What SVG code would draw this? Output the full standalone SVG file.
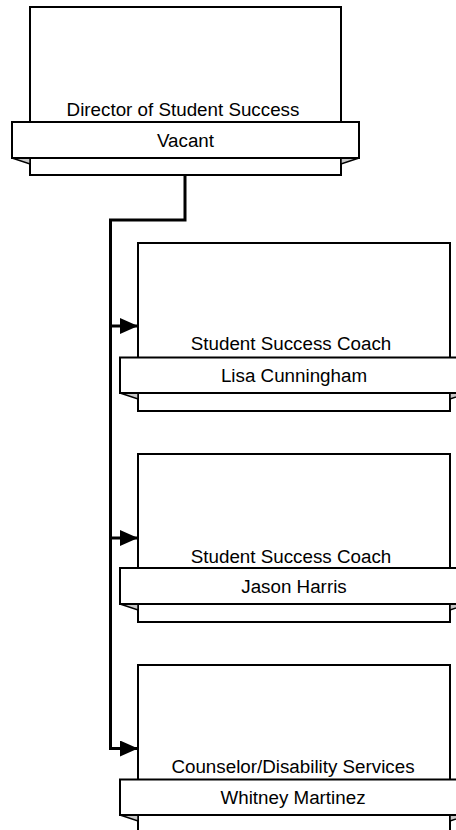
<svg xmlns="http://www.w3.org/2000/svg" width="456" height="830" viewBox="0 0 456 830">
<defs>
<style>
.box{fill:#fff;stroke:#000;stroke-width:2}
.fold{fill:#c8c8c8;stroke:#000;stroke-width:1.5;stroke-linejoin:miter}
.t{font-family:"Liberation Sans",Arial,sans-serif;font-size:18.8px;fill:#000;text-anchor:middle}
.conn{fill:none;stroke:#000;stroke-width:3}
</style>
<marker id="arr" viewBox="0 0 18 16" refX="18" refY="8" markerWidth="18" markerHeight="16" markerUnits="userSpaceOnUse" orient="auto">
<path d="M0,0 L18,8 L0,16 Z" fill="#000"/>
</marker>
</defs>
<rect width="456" height="830" fill="#fff"/>
<g id="connectors">
<path class="conn" d="M185,175 V220 H110.5 V750"/>
<path class="conn" d="M110.5,326 H138" marker-end="url(#arr)"/>
<path class="conn" d="M110.5,538 H138" marker-end="url(#arr)"/>
<path class="conn" d="M110.5,748.5 H138" marker-end="url(#arr)"/>
</g>
<g id="director">
<rect class="box" x="30" y="7" width="311" height="168"/>
<polygon class="fold" points="12,158 30,158 30,164"/>
<polygon class="fold" points="359,158 341,158 341,164"/>
<rect class="box" x="12" y="122" width="347" height="36"/>
<text class="t" x="183" y="115.5">Director of Student Success</text>
<text class="t" x="185.5" y="146.5">Vacant</text>
</g>
<g id="coach1">
<rect class="box" x="138" y="243" width="312" height="168"/>
<polygon class="fold" points="120,393 138,393 138,399"/>
<polygon class="fold" points="468,393 450,393 450,399"/>
<rect class="box" x="120" y="357.5" width="348" height="35.5"/>
<text class="t" x="291" y="350">Student Success Coach</text>
<text class="t" x="294" y="381.5">Lisa Cunningham</text>
</g>
<g id="coach2">
<rect class="box" x="138" y="454" width="312" height="168"/>
<polygon class="fold" points="120,604 138,604 138,610"/>
<polygon class="fold" points="468,604 450,604 450,610"/>
<rect class="box" x="120" y="568" width="348" height="36"/>
<text class="t" x="291" y="562.5">Student Success Coach</text>
<text class="t" x="294" y="592.5">Jason Harris</text>
</g>
<g id="counselor">
<rect class="box" x="138" y="665" width="312" height="168"/>
<polygon class="fold" points="120,815 138,815 138,821"/>
<polygon class="fold" points="468,815 450,815 450,821"/>
<rect class="box" x="120" y="779.5" width="348" height="35.5"/>
<text class="t" x="293" y="773">Counselor/Disability Services</text>
<text class="t" x="293" y="804">Whitney Martinez</text>
</g>
</svg>
